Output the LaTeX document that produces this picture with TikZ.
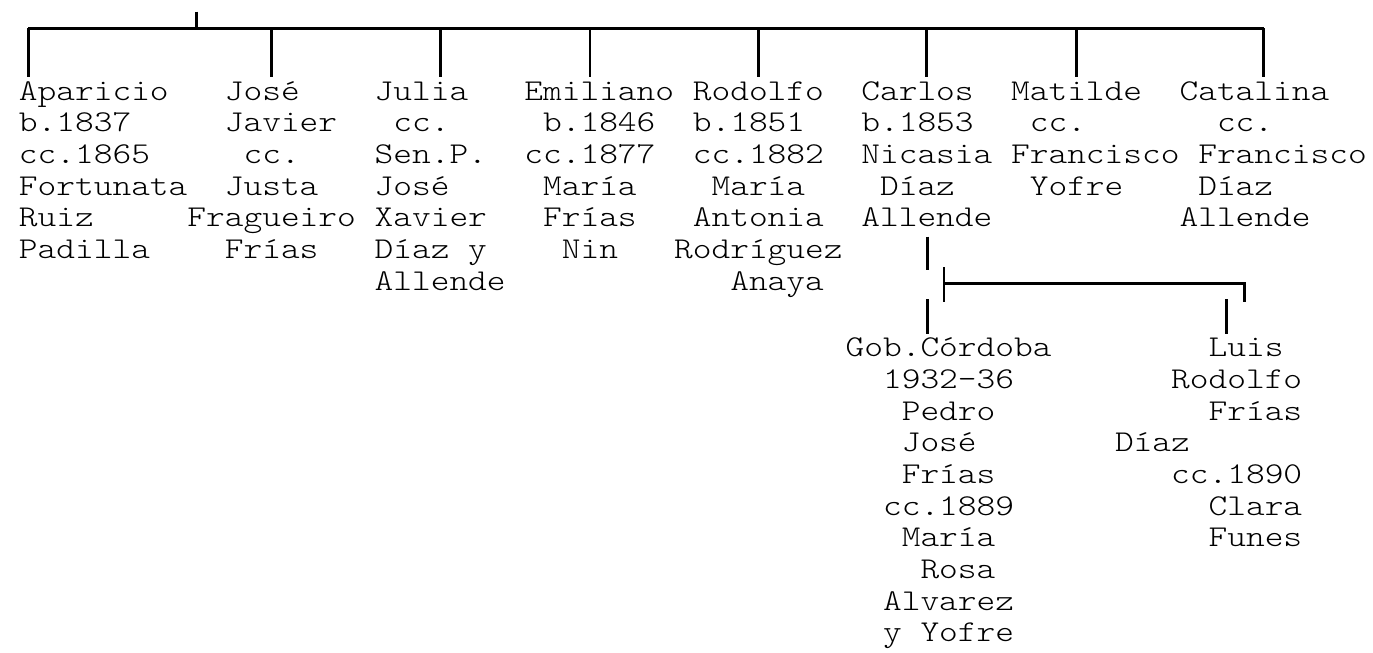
\documentclass[tikz,border=0pt]{standalone}
\usepackage{fontspec}
\newfontfamily\cour[FakeStretch=1.18]{lmmonolt10-regular.otf}
\tikzset{
  txt/.style={anchor=base west, inner sep=0pt, outer sep=0pt,
              font=\cour\fontsize{15.11pt}{15.11pt}\selectfont},
  link/.style={line width=1.4pt, line cap=butt},
}
% upper grid: column k, row r
\newcommand\pline[4]{\node[txt] (#1) at ({18.94+18.72*#2},{100+31.67*#3}) {#4};}
% lower left block
\newcommand\lline[4]{\node[txt] (#1) at ({21.94+18.72*#2},{356.7+31.67*#3}) {#4};}
% lower right block
\newcommand\rline[4]{\node[txt] (#1) at ({29.24+18.72*#2},{356.7+31.67*#3}) {#4};}
\begin{document}
\begin{tikzpicture}[x=0.5pt,y=-0.5pt]
\useasboundingbox (0,0) rectangle (1373,653);

% ---- first generation
\pline{aparicio}{0}{0}{Aparicio}
\pline{apa1}{0}{1}{b.1837}
\pline{apa2}{0}{2}{cc.1865}
\pline{apa3}{0}{3}{Fortunata}
\pline{apa4}{0}{4}{Ruiz}
\pline{apa5}{0}{5}{Padilla}

\pline{jose}{11}{0}{José}
\pline{jos1}{11}{1}{Javier}
\pline{jos2}{12}{2}{cc.}
\pline{jos3}{11}{3}{Justa}
\pline{jos4}{9}{4}{Fragueiro}
\pline{jos5}{11}{5}{Frías}

\pline{julia}{19}{0}{Julia}
\pline{jul1}{20}{1}{cc.}
\pline{jul2}{19}{2}{Sen.P.}
\pline{jul3}{19}{3}{José}
\pline{jul4}{19}{4}{Xavier}
\pline{jul5}{19}{5}{Díaz y}
\pline{jul6}{19}{6}{Allende}

\pline{emiliano}{27}{0}{Emiliano}
\pline{emi1}{28}{1}{b.1846}
\pline{emi2}{27}{2}{cc.1877}
\pline{emi3}{28}{3}{María}
\pline{emi4}{28}{4}{Frías}
\pline{emi5}{29}{5}{Nin}

\pline{rodolfo}{36}{0}{Rodolfo}
\pline{rod1}{36}{1}{b.1851}
\pline{rod2}{36}{2}{cc.1882}
\pline{rod3}{37}{3}{María}
\pline{rod4}{36}{4}{Antonia}
\pline{rod5}{35}{5}{Rodríguez}
\pline{rod6}{38}{6}{Anaya}

\pline{carlos}{45}{0}{Carlos}
\pline{car1}{45}{1}{b.1853}
\pline{car2}{45}{2}{Nicasia}
\pline{car3}{46}{3}{Díaz}
\pline{car4}{45}{4}{Allende}

\pline{matilde}{53}{0}{Matilde}
\pline{mat1}{54}{1}{cc.}
\pline{mat2}{53}{2}{Francisco}
\pline{mat3}{54}{3}{Yofre}

\pline{catalina}{62}{0}{Catalina}
\pline{cat1}{64}{1}{cc.}
\pline{cat2}{63}{2}{Francisco}
\pline{cat3}{63}{3}{Díaz}
\pline{cat4}{62}{4}{Allende}

% ---- second generation (children of Carlos)
\lline{pedro}{44}{0}{Gob.Córdoba}
\lline{ped1}{46}{1}{1932-36}
\lline{ped2}{47}{2}{Pedro}
\lline{ped3}{47}{3}{José}
\lline{ped4}{47}{4}{Frías}
\lline{ped5}{46}{5}{cc.1889}
\lline{ped6}{47}{6}{María}
\lline{ped7}{48}{7}{Rosa}
\lline{ped8}{46}{8}{Alvarez}
\lline{ped9}{46}{9}{y Yofre}

\rline{luis}{63}{0}{Luis}
\rline{lui1}{61}{1}{Rodolfo}
\rline{lui2}{63}{2}{Frías}
\rline{lui3}{58}{3}{Díaz}
\rline{lui4}{61}{4}{cc.1890}
\rline{lui5}{63}{5}{Clara}
\rline{lui6}{63}{6}{Funes}

% ---- connectors, top level
\coordinate (root) at (196.78,11.7);
\coordinate (rootbar) at (196.78,28.3);
\draw[link] (root) -- (rootbar);

\foreach \n/\k in {aparicio/0, jose/13, julia/22, emiliano/30, rodolfo/39, carlos/48, matilde/56, catalina/66}{
  \coordinate (bar-\n) at ({28.3+18.72*\k},28.3);
  \coordinate (drop-\n) at ({28.3+18.72*\k},77.3);
}
\draw[link] (bar-aparicio) -- (bar-catalina);
\foreach \n in {aparicio, jose, julia, emiliano, rodolfo, carlos, matilde, catalina}{
  \draw[link] (bar-\n) -- (drop-\n);
}

% ---- connectors below Carlos
\coordinate (cA) at (927.3,236.7);
\coordinate (cB) at (927.3,270);
\coordinate (tA) at (944,267.3);
\coordinate (tB) at (944,301.7);
\coordinate (tM) at (944,283.3);
\coordinate (rA) at (1244.3,283.3);
\coordinate (rB) at (1244.3,301.7);
\coordinate (pA) at (927.3,299.3);
\coordinate (pB) at (927.3,334.3);
\coordinate (lA) at (1226.7,299.3);
\coordinate (lB) at (1226.7,334.3);
\draw[link] (cA) -- (cB);
\draw[link] (tA) -- (tB);
\draw[link] (tM) -- (rA) -- (rB);
\draw[link] (pA) -- (pB);
\draw[link] (lA) -- (lB);
\end{tikzpicture}
\end{document}
